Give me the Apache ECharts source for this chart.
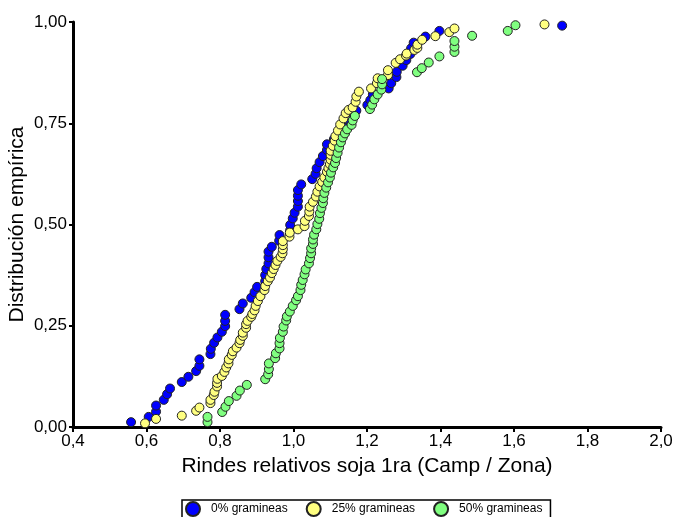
<!DOCTYPE html>
<html>
<head>
<meta charset="utf-8">
<script src="https://cdn.jsdelivr.net/npm/echarts@6/dist/echarts.min.js"></script>
<style>
  html, body { margin: 0; padding: 0; background: #fff; }
  #chart { width: 675px; height: 517px; }
</style>
</head>
<body>
<div id="chart"></div>
<script>
const seriesNames = ['0% gramineas', '25% gramineas', '50% gramineas']
const seriesColors = ['#0000ff', '#ffff80', '#80ff80']

const blueX = [0.558,0.606,0.626,0.626,0.647,0.656,0.664,0.696,0.714,0.735,
  0.744,0.744,0.774,0.775,0.784,0.793,0.805,0.814,0.814,0.814,
  0.853,0.862,0.885,0.894,0.901,0.923,0.923,0.926,0.932,0.932,
  0.932,0.941,0.961,0.962,0.991,0.991,0.998,1.003,1.012,1.012,
  1.012,1.012,1.021,1.051,1.060,1.063,1.071,1.080,1.091,1.091,
  1.110,1.139,1.145,1.155,1.165,1.171,1.201,1.209,1.216,1.259,
  1.266,1.280,1.281,1.297,1.307,1.318,1.320,1.327,1.359,1.397,
  1.731]
const blueY = [0.012,0.025,0.038,0.053,0.067,0.081,0.095,0.111,0.124,0.138,
  0.151,0.167,0.180,0.193,0.208,0.221,0.235,0.249,0.262,0.277,
  0.291,0.305,0.319,0.333,0.346,0.360,0.375,0.390,0.404,0.419,
  0.433,0.445,0.460,0.474,0.486,0.499,0.515,0.529,0.544,0.558,
  0.571,0.585,0.599,0.612,0.625,0.639,0.654,0.669,0.684,0.698,
  0.711,0.725,0.739,0.753,0.767,0.781,0.795,0.807,0.821,0.836,
  0.849,0.864,0.877,0.892,0.906,0.921,0.935,0.949,0.964,0.978,
  0.991]

const yellowX = [0.596,0.626,0.696,0.735,0.744,0.774,0.774,0.783,0.785,0.792,
  0.792,0.793,0.805,0.812,0.817,0.823,0.824,0.832,0.835,0.845,
  0.853,0.855,0.862,0.862,0.871,0.871,0.875,0.885,0.888,0.894,
  0.897,0.903,0.910,0.921,0.923,0.930,0.936,0.941,0.946,0.951,
  0.956,0.965,0.970,0.971,0.971,0.971,0.989,0.990,1.012,1.030,
  1.031,1.042,1.043,1.044,1.053,1.061,1.065,1.071,1.078,1.084,
  1.091,1.095,1.099,1.101,1.101,1.101,1.107,1.112,1.114,1.121,
  1.127,1.136,1.142,1.150,1.161,1.169,1.171,1.178,1.211,1.227,
  1.229,1.257,1.257,1.278,1.290,1.306,1.308,1.329,1.337,1.337,
  1.350,1.386,1.424,1.438,1.683]
const yellowY = [0.009,0.020,0.028,0.040,0.048,0.059,0.067,0.079,0.087,0.100,
  0.109,0.119,0.126,0.136,0.147,0.157,0.167,0.178,0.187,0.196,
  0.207,0.215,0.225,0.233,0.245,0.254,0.262,0.272,0.279,0.288,
  0.299,0.311,0.323,0.338,0.348,0.360,0.369,0.380,0.390,0.400,
  0.410,0.420,0.429,0.439,0.449,0.459,0.470,0.480,0.488,0.496,
  0.509,0.521,0.532,0.544,0.556,0.569,0.581,0.594,0.605,0.616,
  0.630,0.639,0.649,0.660,0.672,0.682,0.694,0.707,0.718,0.732,
  0.747,0.762,0.775,0.783,0.789,0.803,0.816,0.828,0.836,0.849,
  0.861,0.869,0.881,0.899,0.908,0.917,0.922,0.931,0.936,0.944,
  0.956,0.965,0.975,0.984,0.994]

const greenX = [0.766,0.766,0.806,0.815,0.824,0.845,0.854,0.873,0.923,0.931,
  0.933,0.933,0.950,0.952,0.962,0.962,0.963,0.971,0.973,0.980,
  0.982,0.990,0.998,1.007,1.012,1.019,1.021,1.025,1.030,1.033,
  1.042,1.045,1.048,1.048,1.053,1.053,1.056,1.062,1.065,1.070,
  1.072,1.076,1.080,1.081,1.084,1.089,1.094,1.099,1.102,1.108,
  1.113,1.116,1.120,1.124,1.129,1.134,1.140,1.146,1.158,1.161,
  1.167,1.208,1.214,1.220,1.229,1.239,1.241,1.241,1.336,1.349,
  1.368,1.397,1.438,1.438,1.438,1.486,1.583,1.604]
const greenY = [0.012,0.025,0.037,0.050,0.064,0.077,0.090,0.104,0.118,0.130,
  0.143,0.157,0.170,0.182,0.194,0.207,0.220,0.235,0.248,0.263,
  0.273,0.285,0.299,0.313,0.323,0.338,0.351,0.363,0.377,0.389,
  0.404,0.417,0.429,0.441,0.452,0.463,0.475,0.488,0.501,0.514,
  0.528,0.541,0.553,0.565,0.578,0.591,0.604,0.616,0.628,0.641,
  0.652,0.664,0.677,0.690,0.703,0.715,0.725,0.735,0.746,0.757,
  0.768,0.785,0.796,0.809,0.821,0.833,0.846,0.859,0.876,0.886,
  0.900,0.915,0.926,0.939,0.953,0.966,0.978,0.992]

const allX = [blueX, yellowX, greenX]
const allY = [blueY, yellowY, greenY]

const font = 'Arial, "Liberation Sans", sans-serif'

function zip(xs, ys) {
  return xs.map((x, i) => [x, ys[i]])
}

let myChart = echarts.init(document.getElementById('chart'))

let option = {
  animation: false,
  backgroundColor: '#fff',
  textStyle: { fontFamily: font },
  grid: {
    left: 73,
    right: 14,
    top: 22,
    bottom: 90,
    containLabel: false,
    outerBoundsMode: 'none'
  },
  legend: {
    data: seriesNames,
    left: 182,
    top: 500,
    icon: 'circle',
    itemWidth: 14,
    itemHeight: 14,
    itemGap: 18,
    padding: [1, 8, 1, 3],
    borderColor: '#000',
    borderWidth: 1.5,
    textStyle: { fontSize: 12, color: '#000', fontFamily: font, padding: [0, 0, 0, 6] }
  },
  xAxis: {
    type: 'value',
    min: 0.4,
    max: 2.0,
    interval: 0.2,
    name: 'Rindes relativos soja 1ra (Camp / Zona)',
    nameLocation: 'middle',
    nameGap: 29,
    nameMoveOverlap: false,
    nameTextStyle: { fontSize: 21, color: '#000', fontFamily: font },
    axisLine: { onZero: false, lineStyle: { color: '#000', width: 3 } },
    axisTick: { length: 5, lineStyle: { color: '#000', width: 2 } },
    axisLabel: {
      margin: 6,
      fontSize: 17,
      color: '#000',
      fontFamily: font,
      formatter: v => v.toFixed(1).replace('.', ',')
    },
    splitLine: { show: false }
  },
  yAxis: {
    type: 'value',
    min: 0,
    max: 1,
    interval: 0.25,
    name: 'Distribución empírica',
    nameLocation: 'middle',
    nameGap: 45,
    nameMoveOverlap: false,
    nameTextStyle: { fontSize: 21, color: '#000', fontFamily: font },
    axisLine: { show: true, lineStyle: { color: '#000', width: 3 } },
    axisTick: { show: true, length: 4, lineStyle: { color: '#000', width: 2 } },
    axisLabel: {
      margin: 6,
      fontSize: 17,
      color: '#000',
      fontFamily: font,
      formatter: v => v.toFixed(2).replace('.', ',')
    },
    splitLine: { show: false }
  },
  series: seriesNames.map((name, k) => ({
    name: name,
    type: 'scatter',
    symbol: 'circle',
    symbolSize: 9,
    data: zip(allX[k], allY[k]),
    itemStyle: {
      color: seriesColors[k],
      borderColor: '#222',
      borderWidth: 1,
      opacity: 1
    }
  }))
}

myChart.setOption(option)
</script>
</body>
</html>
